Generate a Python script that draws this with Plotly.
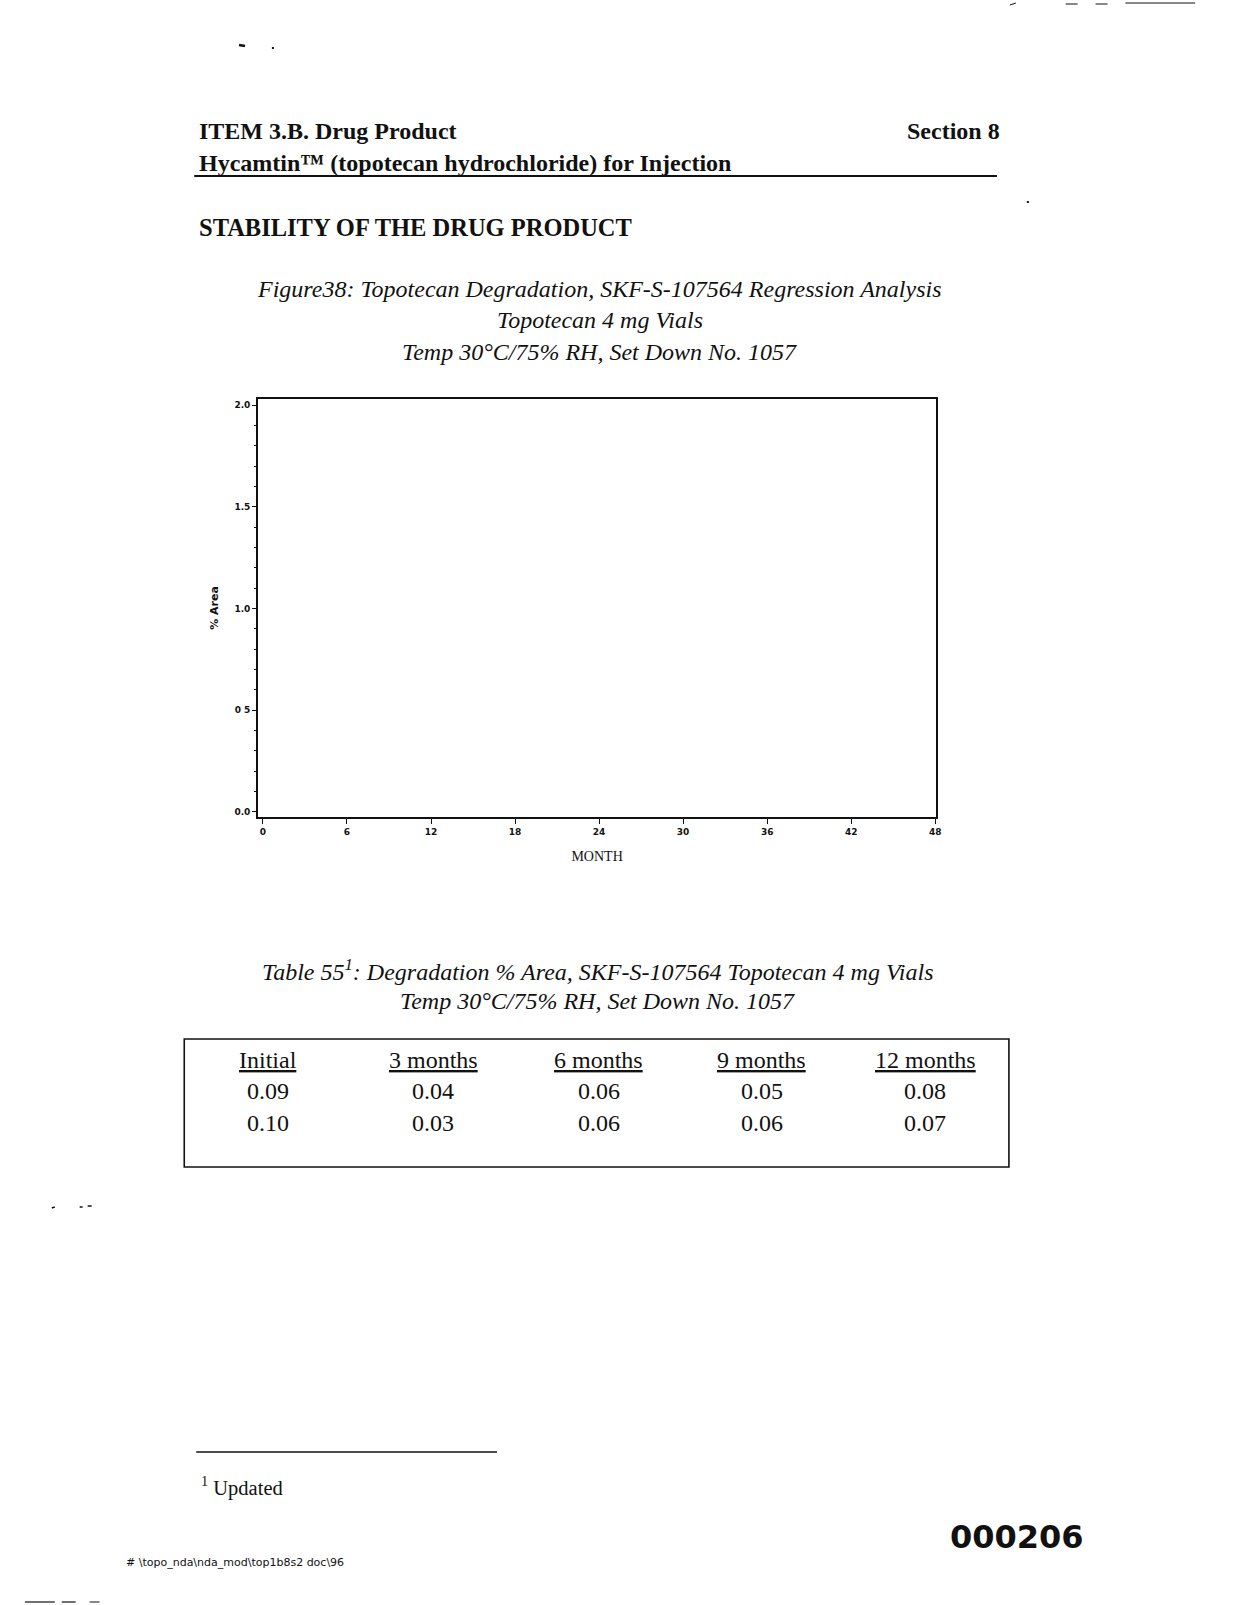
import plotly.graph_objects as go

# ---- data ----
x_ticks = [0, 6, 12, 18, 24, 30, 36, 42, 48]
y_ticks = [0.0, 0.5, 1.0, 1.5, 2.0]
y_tick_labels = ["0.0", "0 5", "1.0", "1.5", "2.0"]
table_headers = ["Initial", "3 months", "6 months", "9 months", "12 months"]
row1 = [0.09, 0.04, 0.06, 0.05, 0.08]
row2 = [0.10, 0.03, 0.06, 0.06, 0.07]

W, H = 1242, 1605
SERIF = "Liberation Serif, Times New Roman, serif"
DEJA = "DejaVu Sans, sans-serif"
INK = "#111111"

def px(x):
    return x / W

def py(y):
    return 1 - y / H

fig = go.Figure()
# empty regression plot (no marks visible in the reference)
fig.add_trace(go.Scatter(x=[], y=[], mode="markers", showlegend=False))

left, right, top, bottom = 259, 940, 399, 817
fig.update_layout(
    width=W, height=H, autosize=False,
    margin=dict(l=0, r=0, t=0, b=0),
    paper_bgcolor="white", plot_bgcolor="white",
    showlegend=False,
    xaxis=dict(
        domain=[px(left), px(right)], range=[-0.356, 48.07],
        tickvals=x_ticks, ticktext=[str(v) for v in x_ticks],
        ticks="outside", ticklen=5, tickwidth=1.2, tickcolor=INK,
        showline=True, linecolor=INK, linewidth=1.6, mirror=True,
        showgrid=False, zeroline=False,
        tickfont=dict(family=DEJA, size=9, color=INK, weight="bold"),
        title=dict(text="MONTH", font=dict(family=SERIF, size=14, color=INK), standoff=16),
    ),
    yaxis=dict(
        domain=[py(bottom), py(top)], range=[-0.0246, 2.0295],
        tickvals=y_ticks, ticktext=y_tick_labels,
        ticks="outside", ticklen=4, tickwidth=1.2, tickcolor=INK,
        showline=True, linecolor=INK, linewidth=1.6, mirror=True,
        showgrid=False, zeroline=False,
        tickfont=dict(family=DEJA, size=9, color=INK, weight="bold"),
        title=dict(text="% Area", font=dict(family=DEJA, size=11, color=INK, weight="bold"), standoff=14),
        minor=dict(ticks="outside", ticklen=2, dtick=0.1, tickcolor=INK),
    ),
)

ann = []
def text(x, y, s, size, family=SERIF, anchor="left", bold=False, italic=False):
    ann.append(dict(
        x=px(x), y=py(y), xref="paper", yref="paper", text=s, showarrow=False,
        xanchor=anchor, yanchor="middle",
        font=dict(family=family, size=size, color=INK,
                  weight="bold" if bold else "normal",
                  style="italic" if italic else "normal"),
    ))

# header
text(198, 131, "ITEM 3.B. Drug Product", 24, bold=True)
text(1006, 131, "Section 8", 24, anchor="right", bold=True)
text(198, 163, "Hycamtin\u2122 (topotecan hydrochloride) for Injection", 24, bold=True)
text(198, 227, "STABILITY OF THE DRUG PRODUCT", 24.5, bold=True)

# figure title
text(602, 289, "Figure38: Topotecan Degradation, SKF-S-107564 Regression Analysis", 24, anchor="center", italic=True)
text(602, 320, "Topotecan 4 mg Vials", 24, anchor="center", italic=True)
text(602, 352, "Temp 30\u00b0C/75% RH, Set Down No. 1057", 24, anchor="center", italic=True)

# table title
text(600, 970, "Table 55<sup>1</sup>: Degradation % Area, SKF-S-107564 Topotecan 4 mg Vials", 24, anchor="center", italic=True)
text(600, 1001, "Temp 30\u00b0C/75% RH, Set Down No. 1057", 24, anchor="center", italic=True)

# table contents
col_x = [269, 435, 601, 765, 929]
for cx, h, a, b in zip(col_x, table_headers, row1, row2):
    text(cx, 1060, f"<u>{h}</u>", 24, anchor="center")
    text(cx, 1091, f"{a:.2f}", 24, anchor="center")
    text(cx, 1123, f"{b:.2f}", 24, anchor="center")

# footnote and footer
text(200, 1486, "<sup>1</sup> Updated", 20.5)
text(952, 1537, "000206", 32, family=DEJA, bold=True)
text(125, 1562, "# \\topo_nda\\nda_mod\\top1b8s2 doc\\96", 11, family=DEJA)

fig.update_layout(annotations=ann)

shapes = []
def line(x0, y0, x1, y1, w=1.5):
    shapes.append(dict(type="line", xref="paper", yref="paper",
                       x0=px(x0), y0=py(y0), x1=px(x1), y1=py(y1),
                       line=dict(color=INK, width=w)))

line(195, 176, 1001, 176, 1.8)          # header rule
line(197, 1452, 499, 1452, 1.5)         # footnote rule
# table box
shapes.append(dict(type="rect", xref="paper", yref="paper",
                   x0=px(185), y0=py(1167), x1=px(1013), y1=py(1039),
                   line=dict(color=INK, width=1.6)))
# scan artifacts
line(1014, 5, 1020, 3, 1)
line(1070, 4, 1082, 4, 1)
line(1100, 4, 1112, 4, 1)
line(1130, 3, 1200, 3, 1)
line(25, 1602, 55, 1602, 1.2)
line(62, 1602, 76, 1602, 1.2)
line(90, 1602, 100, 1602, 1)
line(240, 45, 246, 46, 2.5)
line(273, 48, 275, 48, 2)
line(52, 1208, 55, 1207, 1.5)
line(80, 1207, 83, 1207, 1.5)
line(88, 1206, 92, 1206, 1.5)
line(1031, 202, 1033, 202, 2)
fig.update_layout(shapes=shapes)

fig.write_html("out.html")
